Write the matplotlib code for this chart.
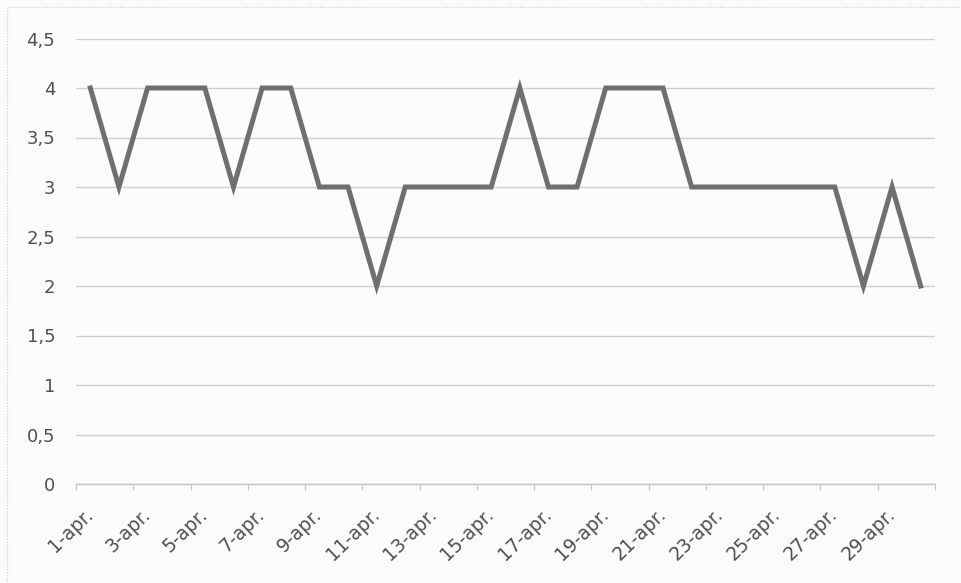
import matplotlib
matplotlib.use("Agg")
import matplotlib.pyplot as plt
from matplotlib.patches import Rectangle

days = [f"{d}-apr." for d in range(1, 31)]
values = [4, 3, 4, 4, 4, 3, 4, 4, 3, 3, 2, 3, 3, 3, 3,
          4, 3, 3, 4, 4, 4, 3, 3, 3, 3, 3, 3, 2, 3, 2]
y_ticks = [0, 0.5, 1, 1.5, 2, 2.5, 3, 3.5, 4, 4.5]
y_tick_labels = ["0", "0,5", "1", "1,5", "2", "2,5", "3", "3,5", "4", "4,5"]

plt.rcParams['font.family'] = ['DejaVu Sans']

fig = plt.figure(figsize=(9.62, 5.83), dpi=100, facecolor='#fbfbfb')
ax = fig.add_axes([76/962, 1-484/583, (935-76)/962, (484-38.5)/583])
ax.set_facecolor('#fbfbfb')

x = list(range(len(days)))
ax.plot(x, values, color='#6f6f6f', lw=3.6, solid_joinstyle='miter', zorder=3)

ax.set_xlim(-0.5, len(days) - 0.5)
ax.set_ylim(0, 4.5)
ax.set_yticks(y_ticks)
ax.set_yticklabels(y_tick_labels)
ax.grid(axis='y', color='#cfcfcf', lw=1.0, zorder=0)

for s in ['top', 'right', 'left']:
    ax.spines[s].set_visible(False)
ax.spines['bottom'].set_color('#c4c4c4')
ax.spines['bottom'].set_linewidth(1.0)

ax.tick_params(axis='y', length=0, pad=15, labelsize=13, labelcolor='#505050')
ax.set_xticks([i - 0.5 for i in range(0, len(days) + 1, 2)])
ax.set_xticklabels([])
ax.tick_params(axis='x', which='major', length=4, color='#c4c4c4')
ax.set_xticks(x[::2], minor=True)
ax.set_xticklabels(days[::2], minor=True, rotation=44, ha='right', va='center',
                   rotation_mode='anchor', fontsize=13.5, color='#505050')
ax.tick_params(axis='x', which='minor', length=0, pad=20)

fig.patches.append(Rectangle((7/962, -0.05), 1.1, 1 - 7/583 + 0.05,
                             transform=fig.transFigure, fill=False,
                             edgecolor='#d4d4d4', lw=1.0, linestyle=(0, (1, 1))))

fig.savefig('out.png', dpi=100, facecolor=fig.get_facecolor())
